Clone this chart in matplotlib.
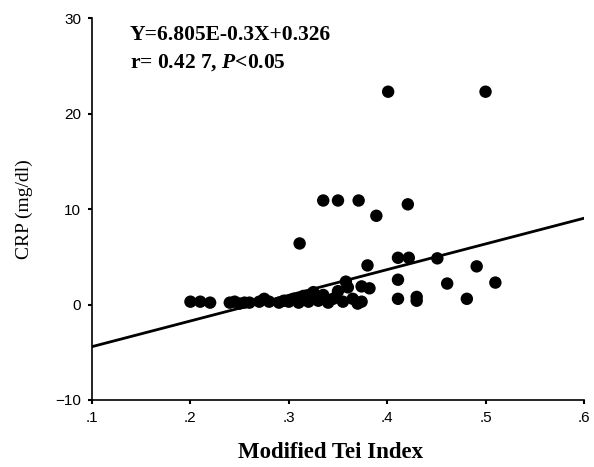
import matplotlib
matplotlib.use("Agg")
import matplotlib.pyplot as plt
import numpy as np

plt.rcParams["mathtext.fontset"] = "custom"
plt.rcParams["mathtext.bfit"] = "Liberation Serif:italic:bold"
plt.rcParams["mathtext.rm"] = "Liberation Serif:bold"

# Modified Tei Index vs CRP (mg/dl)
tei = [
    0.20, 0.21, 0.22,
    0.24, 0.245, 0.25, 0.255, 0.26, 0.27, 0.275, 0.28, 0.29, 0.295,
    0.30, 0.305, 0.31, 0.315, 0.32, 0.325, 0.33, 0.335, 0.34, 0.345,
    0.35, 0.355, 0.36, 0.365, 0.37, 0.358, 0.374, 0.382, 0.374, 0.380,
    0.311, 0.335, 0.350, 0.371, 0.389, 0.421,
    0.401, 0.500,
    0.411, 0.422, 0.451, 0.491, 0.411, 0.461, 0.510,
    0.411, 0.430, 0.430, 0.481,
]
crp = [
    0.3, 0.3, 0.2,
    0.2, 0.3, 0.1, 0.2, 0.2, 0.3, 0.6, 0.3, 0.2, 0.4,
    0.3, 0.6, 0.2, 0.9, 0.3, 1.3, 0.4, 1.0, 0.2, 0.6,
    1.4, 0.3, 1.8, 0.6, 0.1, 2.4, 1.9, 1.7, 0.3, 4.1,
    6.4, 10.9, 10.9, 10.9, 9.3, 10.5,
    22.3, 22.3,
    4.9, 4.9, 4.84, 4.0, 2.6, 2.2, 2.3,
    0.6, 0.8, 0.4, 0.6,
]

# fitted regression line (as drawn)
fit_slope = 26.9
fit_intercept = -7.1

xticks = [0.1, 0.2, 0.3, 0.4, 0.5, 0.6]
xticklabels = [".1", ".2", ".3", ".4", ".5", ".6"]
yticks = [-10, 0, 10, 20, 30]
yticklabels = ["\u221210", "0", "10", "20", "30"]

fig = plt.figure(figsize=(5.94, 4.67), dpi=100)
ax = fig.add_axes([0.155, 0.1435, 0.828, 0.8175])

ax.scatter(tei, crp, s=80, color="black", edgecolors="none", zorder=3)

line_x = np.array([0.1, 0.6])
ax.plot(line_x, fit_slope * line_x + fit_intercept, color="black", lw=2.0, zorder=2)

ax.set_xlim(0.1, 0.6)
ax.set_ylim(-10, 30)
ax.set_xticks(xticks)
ax.set_xticklabels(xticklabels, fontfamily="Liberation Sans", fontsize=11)
ax.set_yticks(yticks)
ax.set_yticklabels(yticklabels, fontfamily="Liberation Sans", fontsize=11)
ax.tick_params(direction="out", length=3, width=1.5, pad=5)

for side in ("top", "right"):
    ax.spines[side].set_visible(False)
for side in ("left", "bottom"):
    ax.spines[side].set_linewidth(1.2)

ax.set_ylabel("CRP (mg/dl)", fontfamily="Liberation Serif", fontsize=14, labelpad=16)
ax.set_xlabel("Modified Tei Index", fontfamily="Liberation Serif", fontsize=16.5,
              fontweight="bold", labelpad=12)
ax.xaxis.label.set_x(0.485)

fig.text(0.219, 0.925, "Y=6.805E-0.3X+0.326", fontfamily="Liberation Serif",
         fontsize=15.5, fontweight="bold", va="center")
fig.text(0.219, 0.867, r"r= 0.42 7, $\mathbfit{P}$<0.05", fontfamily="Liberation Serif",
         fontsize=15.5, fontweight="bold", va="center")

plt.savefig("out.png", dpi=100)
plt.close()
